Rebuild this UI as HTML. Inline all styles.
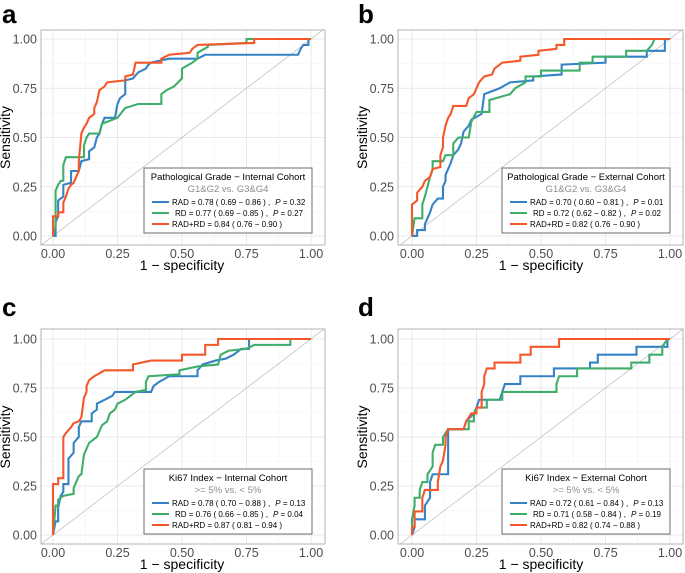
<!DOCTYPE html>
<html><head><meta charset="utf-8"><style>
body{margin:0;background:#fff}
svg{display:block;font-family:"Liberation Sans",sans-serif}
</style></head><body>
<svg id="fig" width="685" height="573" viewBox="0 0 685 573"></svg>
<script>
const ticks=[0,0.25,0.5,0.75,1];
const tickLabels=["0.00","0.25","0.50","0.75","1.00"];
const aRAD=[[0,0],[0.01,0],[0.01,0.07],[0.02,0.1],[0.02,0.18],[0.04,0.2],[0.04,0.26],[0.07,0.27],[0.07,0.33],[0.1,0.33],[0.11,0.38],[0.14,0.39],[0.14,0.43],[0.16,0.45],[0.17,0.5],[0.18,0.52],[0.19,0.57],[0.2,0.6],[0.24,0.6],[0.25,0.67],[0.26,0.7],[0.28,0.72],[0.28,0.79],[0.31,0.8],[0.33,0.83],[0.36,0.85],[0.37,0.87],[0.38,0.88],[0.45,0.9],[0.56,0.9],[0.59,0.92],[0.95,0.92],[0.96,0.95],[0.97,0.97],[0.99,0.97],[0.99,1],[1,1]];
const aRD=[[0,0],[0.01,0.05],[0.01,0.23],[0.02,0.26],[0.03,0.28],[0.04,0.28],[0.04,0.36],[0.05,0.4],[0.12,0.4],[0.12,0.46],[0.13,0.5],[0.14,0.52],[0.18,0.52],[0.19,0.57],[0.25,0.6],[0.28,0.65],[0.33,0.67],[0.42,0.67],[0.42,0.72],[0.44,0.74],[0.47,0.76],[0.5,0.8],[0.5,0.85],[0.54,0.88],[0.56,0.9],[0.56,0.93],[0.6,0.96],[0.6,0.97],[0.75,0.98],[0.75,1],[1,1]];
const aBOTH=[[0,0],[0,0.1],[0.02,0.1],[0.02,0.12],[0.04,0.12],[0.04,0.17],[0.05,0.2],[0.06,0.24],[0.07,0.26],[0.08,0.27],[0.09,0.3],[0.1,0.33],[0.1,0.38],[0.11,0.52],[0.12,0.55],[0.13,0.57],[0.14,0.6],[0.16,0.62],[0.16,0.65],[0.17,0.68],[0.18,0.74],[0.2,0.76],[0.21,0.78],[0.28,0.79],[0.28,0.81],[0.31,0.82],[0.32,0.88],[0.42,0.88],[0.42,0.9],[0.45,0.92],[0.53,0.93],[0.54,0.95],[0.56,0.97],[0.78,0.98],[0.78,1],[1,1]];
const bRAD=[[0,0],[0.02,0],[0.02,0.03],[0.05,0.03],[0.05,0.06],[0.06,0.09],[0.07,0.12],[0.08,0.16],[0.1,0.19],[0.12,0.19],[0.12,0.25],[0.13,0.28],[0.13,0.31],[0.14,0.34],[0.15,0.37],[0.16,0.41],[0.18,0.44],[0.19,0.47],[0.2,0.53],[0.22,0.56],[0.23,0.59],[0.27,0.62],[0.28,0.72],[0.34,0.75],[0.38,0.78],[0.47,0.79],[0.47,0.81],[0.58,0.82],[0.58,0.87],[0.75,0.88],[0.75,0.91],[0.91,0.91],[0.91,0.94],[0.98,0.94],[0.98,1],[1,1]];
const bRD=[[0,0],[0.01,0.09],[0.04,0.09],[0.04,0.16],[0.05,0.2],[0.06,0.25],[0.07,0.3],[0.08,0.34],[0.08,0.38],[0.12,0.38],[0.13,0.41],[0.16,0.41],[0.16,0.47],[0.18,0.5],[0.22,0.5],[0.23,0.58],[0.25,0.63],[0.3,0.63],[0.3,0.69],[0.38,0.72],[0.4,0.75],[0.44,0.78],[0.44,0.81],[0.5,0.81],[0.5,0.84],[0.65,0.84],[0.65,0.88],[0.7,0.88],[0.7,0.91],[0.83,0.91],[0.83,0.94],[0.91,0.94],[0.93,0.97],[0.94,1],[1,1]];
const bBOTH=[[0,0],[0,0.16],[0.02,0.18],[0.02,0.22],[0.04,0.25],[0.05,0.28],[0.07,0.3],[0.08,0.34],[0.11,0.35],[0.11,0.41],[0.12,0.45],[0.12,0.5],[0.13,0.56],[0.14,0.6],[0.15,0.62],[0.16,0.66],[0.21,0.66],[0.22,0.7],[0.24,0.72],[0.25,0.75],[0.26,0.78],[0.28,0.81],[0.31,0.82],[0.32,0.85],[0.35,0.88],[0.42,0.89],[0.42,0.91],[0.49,0.92],[0.49,0.94],[0.56,0.95],[0.56,0.97],[0.59,0.97],[0.59,1],[1,1]];
const cRAD=[[0,0],[0.01,0.07],[0.02,0.07],[0.02,0.14],[0.03,0.2],[0.04,0.22],[0.04,0.26],[0.06,0.26],[0.06,0.39],[0.08,0.42],[0.08,0.47],[0.1,0.5],[0.1,0.55],[0.11,0.58],[0.15,0.58],[0.15,0.62],[0.17,0.64],[0.17,0.67],[0.2,0.69],[0.23,0.71],[0.24,0.73],[0.38,0.73],[0.39,0.76],[0.41,0.78],[0.45,0.81],[0.56,0.81],[0.56,0.84],[0.58,0.87],[0.63,0.89],[0.67,0.9],[0.7,0.92],[0.73,0.95],[0.76,0.95],[0.76,1],[1,1]];
const cRD=[[0,0],[0.01,0.15],[0.02,0.15],[0.02,0.18],[0.04,0.2],[0.08,0.21],[0.08,0.24],[0.09,0.27],[0.1,0.3],[0.11,0.31],[0.12,0.41],[0.13,0.44],[0.14,0.47],[0.17,0.5],[0.19,0.56],[0.21,0.58],[0.22,0.62],[0.24,0.64],[0.25,0.67],[0.28,0.69],[0.32,0.73],[0.36,0.74],[0.36,0.78],[0.37,0.81],[0.49,0.82],[0.49,0.84],[0.56,0.86],[0.64,0.87],[0.65,0.92],[0.68,0.94],[0.75,0.95],[0.78,0.97],[0.92,0.97],[0.92,1],[1,1]];
const cBOTH=[[0,0],[0,0.26],[0.02,0.26],[0.02,0.29],[0.04,0.29],[0.04,0.5],[0.05,0.52],[0.07,0.55],[0.08,0.57],[0.1,0.58],[0.11,0.6],[0.12,0.7],[0.13,0.73],[0.13,0.76],[0.14,0.79],[0.16,0.81],[0.2,0.84],[0.31,0.84],[0.31,0.87],[0.38,0.89],[0.5,0.89],[0.5,0.92],[0.59,0.92],[0.59,0.97],[0.64,0.97],[0.64,1],[1,1]];
const dRAD=[[0,0],[0.01,0.04],[0.01,0.08],[0.05,0.08],[0.05,0.15],[0.07,0.19],[0.07,0.27],[0.08,0.31],[0.14,0.31],[0.14,0.54],[0.2,0.54],[0.21,0.58],[0.24,0.62],[0.25,0.65],[0.26,0.69],[0.34,0.69],[0.35,0.73],[0.36,0.77],[0.42,0.77],[0.42,0.81],[0.55,0.81],[0.55,0.85],[0.69,0.85],[0.69,0.88],[0.72,0.88],[0.72,0.92],[0.87,0.92],[0.87,0.96],[0.99,0.96],[0.99,1],[1,1]];
const dRD=[[0,0],[0,0.08],[0.01,0.15],[0.01,0.19],[0.03,0.19],[0.03,0.23],[0.04,0.27],[0.06,0.27],[0.06,0.31],[0.08,0.35],[0.08,0.42],[0.09,0.46],[0.12,0.46],[0.12,0.5],[0.14,0.54],[0.22,0.54],[0.22,0.58],[0.24,0.58],[0.24,0.62],[0.25,0.65],[0.29,0.65],[0.29,0.69],[0.35,0.69],[0.35,0.73],[0.56,0.73],[0.56,0.77],[0.57,0.81],[0.64,0.81],[0.64,0.85],[0.85,0.85],[0.85,0.88],[0.92,0.88],[0.92,0.92],[0.97,0.92],[0.97,0.96],[0.99,1],[1,1]];
const dBOTH=[[0,0],[0,0.04],[0.01,0.04],[0.01,0.12],[0.04,0.12],[0.04,0.19],[0.05,0.23],[0.1,0.23],[0.1,0.27],[0.11,0.35],[0.12,0.38],[0.13,0.46],[0.13,0.5],[0.14,0.54],[0.2,0.54],[0.21,0.58],[0.23,0.62],[0.25,0.62],[0.25,0.65],[0.27,0.65],[0.27,0.73],[0.28,0.77],[0.28,0.81],[0.29,0.85],[0.32,0.85],[0.32,0.88],[0.42,0.88],[0.42,0.92],[0.46,0.92],[0.46,0.96],[0.57,0.96],[0.57,1],[1,1]];
const titles=["Pathological Grade \u2212 Internal Cohort","Pathological Grade \u2212 External Cohort","Ki67 Index \u2212 Internal Cohort","Ki67 Index \u2212 External Cohort"];
const subtitles=["G1&G2 vs. G3&G4","G1&G2 vs. G3&G4",">= 5% vs. < 5%",">= 5% vs. < 5%"];
const radText=["RAD = 0.78 ( 0.69 \u2212 0.86 ) ,","RAD = 0.70 ( 0.60 \u2212 0.81 ) ,","RAD = 0.78 ( 0.70 \u2212 0.88 ) ,","RAD = 0.72 ( 0.61 \u2212 0.84 ) ,"];
const radP=["0.32","0.01","0.13","0.13"];
const rdText=["RD  = 0.77 ( 0.69 \u2212 0.85 ) ,","RD  = 0.72 ( 0.62 \u2212 0.82 ) ,","RD  = 0.76 ( 0.66 \u2212 0.85 ) ,","RD  = 0.71 ( 0.58 \u2212 0.84 ) ,"];
const rdP=["0.27","0.02","0.04","0.19"];
const bothText=["RAD+RD = 0.84 ( 0.76 \u2212 0.90 )","RAD+RD = 0.82 ( 0.76 \u2212 0.90 )","RAD+RD = 0.87 ( 0.81 \u2212 0.94 )","RAD+RD = 0.82 ( 0.74 \u2212 0.88 )"];

const NS="http://www.w3.org/2000/svg";
const svg=document.getElementById('fig');
function mk(tag,attrs,parent,text){const e=document.createElementNS(NS,tag);for(const k in attrs)e.setAttribute(k,attrs[k]);if(text!==undefined)e.textContent=text;(parent||svg).appendChild(e);return e;}
const COL={rad:"#3583c6",rd:"#3fae6a",both:"#f4572a"};
const panels=[
 {id:"a",lx:2,ly:23,bx:41,by:30,bw:284,bh:215,x0:53,x1:311,y0:236,y1:39,lg:[144,168],series:[aRAD,aRD,aBOTH]},
 {id:"b",lx:358,ly:23,bx:398,by:30,bw:285,bh:215,x0:412,x1:670,y0:236,y1:39,lg:[502,168],series:[bRAD,bRD,bBOTH]},
 {id:"c",lx:2,ly:316,bx:41,by:329,bw:284,bh:215,x0:53,x1:311,y0:535,y1:339,lg:[144,469],series:[cRAD,cRD,cBOTH]},
 {id:"d",lx:358,ly:316,bx:398,by:329,bw:285,bh:215,x0:412,x1:670,y0:535,y1:339,lg:[502,469],series:[dRAD,dRD,dBOTH]}
];
panels.forEach((p,i)=>{
 const g=mk('g',{});
 
 
 const sx=v=>p.x0+v*(p.x1-p.x0), sy=v=>p.y0+v*(p.y1-p.y0);
 const lab=mk('text',{x:p.lx,y:p.ly,'font-size':26,'font-weight':'bold'},g,p.id);
 
 
 const grid=mk('g',{},g);
 
 
 for(let k=0;k<4;k++){const m=(ticks[k]+ticks[k+1])/2;
  mk('line',{x1:sx(m),x2:sx(m),y1:p.by,y2:p.by+p.bh,stroke:'#f3f3f3','stroke-width':0.6},grid);
  mk('line',{y1:sy(m),y2:sy(m),x1:p.bx,x2:p.bx+p.bw,stroke:'#f3f3f3','stroke-width':0.6},grid);}
 ticks.forEach((t,k)=>{
  mk('line',{x1:sx(t),x2:sx(t),y1:p.by,y2:p.by+p.bh,stroke:'#e9e9e9','stroke-width':1},grid);
  mk('line',{y1:sy(t),y2:sy(t),x1:p.bx,x2:p.bx+p.bw,stroke:'#e9e9e9','stroke-width':1},grid);
  const tx=mk('text',{x:sx(t),y:p.by+p.bh+13,'font-size':12.5,fill:'#4d4d4d','text-anchor':'middle'},g,tickLabels[k]);
  
  
  const ty=mk('text',{x:p.bx-4,y:sy(t)+4.5,'font-size':12.5,fill:'#4d4d4d','text-anchor':'end'},g,tickLabels[k]);
  
  
 });
 const lo=Math.max((p.bx-p.x0)/(p.x1-p.x0),(p.by+p.bh-p.y0)/(p.y1-p.y0));
 const hi=Math.min((p.bx+p.bw-p.x0)/(p.x1-p.x0),(p.by-p.y0)/(p.y1-p.y0));
 const dg=mk('line',{x1:sx(lo),y1:sy(lo),x2:sx(hi),y2:sy(hi),stroke:'#b0b0b0','stroke-width':0.6},g);
 
 
 const names=['rad','rd','both'];
 p.series.forEach((s,j)=>{
  const pl=mk('polyline',{points:s.map(d=>sx(d[0])+','+sy(d[1])).join(' '),fill:'none',stroke:COL[names[j]],'stroke-width':2.1,'stroke-linejoin':'miter'},g);
  
  
 });
 const bd=mk('rect',{x:p.bx,y:p.by,width:p.bw,height:p.bh,fill:'none',stroke:'#b3b3b3','stroke-width':1},g);
 
 
 const xt=mk('text',{x:(p.x0+p.x1)/2,y:p.by+p.bh+25,'font-size':14,'text-anchor':'middle'},g,'1 \u2212 specificity');
 
 
 const yx=p.bx-31;
 const yt=mk('text',{x:yx,y:(p.y0+p.y1)/2,'font-size':14,'text-anchor':'middle',transform:'rotate(-90 '+yx+' '+(p.y0+p.y1)/2+')'},g,'Sensitivity');
 
 
 const [lx,ly]=p.lg;
 const lg=mk('g',{},g);
 
 
 mk('rect',{x:lx,y:ly,width:168,height:65,fill:'#fff',stroke:'#6e6e6e','stroke-width':1},lg);
 mk('text',{x:lx+84,y:ly+12,'font-size':9.5,'text-anchor':'middle'},lg,titles[i]);
 mk('text',{x:lx+84,y:ly+24,'font-size':9.5,'text-anchor':'middle',fill:'#8c8c8c'},lg,subtitles[i]);
 const rows=[[radText[i],radP[i],'rad',20],[rdText[i],rdP[i],'rd',23],[bothText[i],null,'both',20]];
 rows.forEach((r,k)=>{
  const yy=ly+34+k*11;
  const e=mk('line',{x1:lx+8,x2:lx+25,y1:yy,y2:yy,stroke:COL[r[2]],'stroke-width':2},lg);
  
  
  const t=mk('text',{x:lx+8+r[3],y:yy+3,'font-size':8},lg);
  mk('tspan',{},t,r[0]);
  if(r[1]){mk('tspan',{dx:5,'font-style':'italic'},t,'P');mk('tspan',{},t,' = '+r[1]);}
 });
});
</script>
</body></html>
